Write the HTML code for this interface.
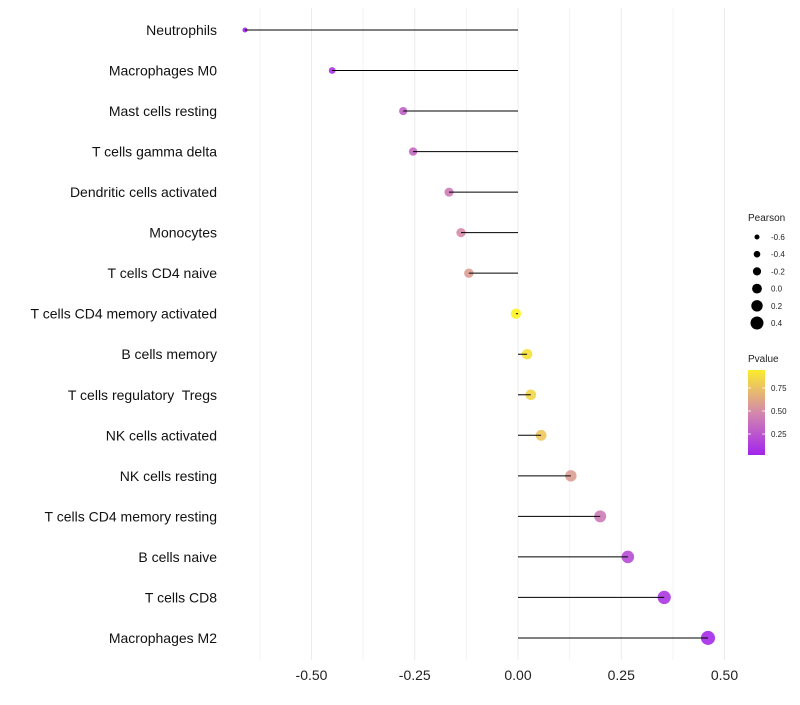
<!DOCTYPE html>
<html><head><meta charset="utf-8"><style>
body{margin:0;background:#fff;font-family:"Liberation Sans",sans-serif}
text{white-space:pre}
</style></head><body>
<svg id="c" width="800" height="700" xmlns="http://www.w3.org/2000/svg"></svg>
<script>
const categories=["Neutrophils","Macrophages M0","Mast cells resting","T cells gamma delta","Dendritic cells activated","Monocytes","T cells CD4 naive","T cells CD4 memory activated","B cells memory","T cells regulatory  Tregs","NK cells activated","NK cells resting","T cells CD4 memory resting","B cells naive","T cells CD8","Macrophages M2"];
const pearson=[-0.661,-0.450,-0.278,-0.254,-0.167,-0.138,-0.119,-0.005,0.022,0.031,0.056,0.128,0.199,0.266,0.354,0.460];
const pvalue=[0.02,0.08,0.3,0.33,0.42,0.5,0.58,0.99,0.9,0.85,0.78,0.58,0.42,0.2,0.1,0.05];
const xTicks=[-0.5,-0.25,0,0.25,0.5];
const xTickLabels=["-0.50","-0.25","0.00","0.25","0.50"];
const sizeLegend=[-0.6,-0.4,-0.2,0.0,0.2,0.4];
const pTicks=[0.25,0.5,0.75];
const NS="http://www.w3.org/2000/svg";
const svg=document.getElementById('c');
const X=v=>518+v*413;
const Y=i=>30+i*40.53;
const R=v=>Math.max(1.5,2.5+(v+0.6)*4);
function col(p){
  const s=[[0,[160,32,240]],[0.5,[214,140,170]],[1,[255,245,30]]];
  p=Math.max(0,Math.min(1,p));
  let a=s[0],b=s[1];if(p>0.5){a=s[1];b=s[2];}
  const t=(p-a[0])/(b[0]-a[0]);
  const c=a[1].map((v,k)=>Math.round(v+(b[1][k]-v)*t));
  return `rgb(${c})`;
}
function el(t,a,txt){const e=document.createElementNS(NS,t);for(const k in a)e.setAttribute(k,a[k]);if(txt!=null)e.textContent=txt;svg.appendChild(e);return e;}
for(let v=-0.625;v<=0.5;v+=0.25){
  const g=el('line',{x1:X(v),x2:X(v),y1:8,y2:660,stroke:'#f3f3f3','stroke-width':1});
  
  
}
xTicks.forEach((v,i)=>{
  const g=el('line',{x1:X(v),x2:X(v),y1:8,y2:660,stroke:'#ebebeb','stroke-width':1});
  
  
  const t=el('text',{x:X(v),y:680,'text-anchor':'middle','font-size':14,fill:'#222'},xTickLabels[i]);
  
  
});
categories.forEach((c,i)=>{
  const y=Y(i);
  const t=el('text',{x:217,y:y+5,'text-anchor':'end','font-size':14,fill:'#111'},c);
  
  
  const d=el('circle',{cx:X(pearson[i]),cy:y,r:R(pearson[i])+0.3,fill:col(pvalue[i]),'fill-opacity':0.9});
  
  
  const l=el('line',{x1:X(0),x2:X(pearson[i]),y1:y,y2:y,stroke:'#000','stroke-width':1});
  
  
});
let t=el('text',{x:748,y:221,'font-size':10,fill:'#222'},'Pearson');


sizeLegend.forEach((v,i)=>{
  const y=237+i*17.2;
  const c=el('circle',{cx:757,cy:y,r:R(v),fill:'#000'});
  
  
  const l=el('text',{x:771,y:y+3,'font-size':8,fill:'#222'},v.toFixed(1));
  
  
});
t=el('text',{x:748,y:362,'font-size':10,fill:'#222'},'Pvalue');


const defs=el('defs',{});
const lg=document.createElementNS(NS,'linearGradient');
lg.setAttribute('id','pg');lg.setAttribute('x1','0');lg.setAttribute('y1','1');lg.setAttribute('x2','0');lg.setAttribute('y2','0');
[0,0.25,0.5,0.75,1].forEach(s=>{const st=document.createElementNS(NS,'stop');st.setAttribute('offset',s);st.setAttribute('stop-color',col(0.02+s*0.93));lg.appendChild(st);});
defs.appendChild(lg);
const bar=el('rect',{x:748,y:370,width:17,height:85,fill:'url(#pg)'});


pTicks.forEach(p=>{
  const y=457-p*92;
  el('line',{x1:748,x2:751,y1:y,y2:y,stroke:'#fff','stroke-width':0.8});
  el('line',{x1:762,x2:765,y1:y,y2:y,stroke:'#fff','stroke-width':0.8});
  const l=el('text',{x:771,y:y+3,'font-size':8,fill:'#222'},p.toFixed(2));
  
  
});
</script>
</body></html>
